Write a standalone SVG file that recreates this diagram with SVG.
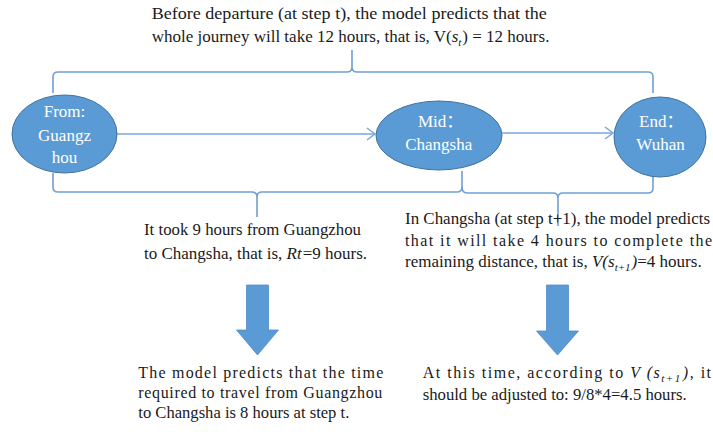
<svg xmlns="http://www.w3.org/2000/svg" width="713" height="432" viewBox="0 0 713 432">
<defs>
<style>
.t{font-family:"Liberation Serif","Times New Roman",serif;font-size:17px;fill:#1a1a1a}
.m{font-family:"Liberation Serif","Times New Roman",serif;font-size:16px;fill:#1a1a1a}
.n{font-family:"Liberation Serif","Times New Roman","Noto Sans CJK SC",serif;font-size:17px;fill:#ffffff}
.i{font-style:italic}
.sub{font-size:11px}
.node{fill:#5b9bd5;stroke:#41719c;stroke-width:1}
.brace{fill:none;stroke:#6fa0d6;stroke-width:1.6}
.conn{fill:none;stroke:#7aa7da;stroke-width:1.6}
.big{fill:#5b9bd5;stroke:#4f8cc9;stroke-width:0.8}
</style>
<marker id="chev" markerWidth="12" markerHeight="14" refX="10" refY="7" orient="auto" markerUnits="userSpaceOnUse">
<path d="M2,1 L10,7 L2,13" fill="none" stroke="#7aa7da" stroke-width="1.5"/>
</marker>
</defs>

<g id="connectors">
<path class="conn" d="M117,134 L375,134" marker-end="url(#chev)"/>
<path class="conn" d="M502,133 L613,133" marker-end="url(#chev)"/>
<path class="brace" d="M53,93 L53,77 Q53,72 58,72 L347,72 Q352,72 352,67 L352,50 M352,67 Q352,72 357,72 L648,72 Q653,72 653,77 L653,93"/>
<path class="brace" d="M53,173 L53,187 Q53,192 58,192 L252,192 Q257,192 257,197 L257,217 M257,197 Q257,192 262,192 L457,192 Q462,192 462,187 L462,171"/>
<path class="brace" d="M462,187 Q462,193 467,193 L553,193 Q558,193 558,198 L558,226 M558,198 Q558,193 563,193 L648,193 Q653,193 653,188 L653,175"/>
<polygon class="big" points="246.5,285 268.5,285 268.5,330 278.5,330 257.5,355 236.5,330 246.5,330"/>
<polygon class="big" points="546.5,285 568.5,285 568.5,331 578.5,331 557.5,355 536.5,331 546.5,331"/>
</g>

<g id="node-from">
<ellipse class="node" cx="64.5" cy="134" rx="52.5" ry="39"/>
<text class="n" x="64.5" y="117" text-anchor="middle">From:</text>
<text class="n" x="64.5" y="140.5" text-anchor="middle">Guangz</text>
<text class="n" x="64.5" y="162.5" text-anchor="middle">hou</text>
</g>

<g id="node-mid">
<ellipse class="node" cx="439" cy="135.5" rx="63" ry="34.5"/>
<text class="n" x="418" y="127">Mid：</text>
<text class="n" x="438.7" y="150" text-anchor="middle">Changsha</text>
</g>

<g id="node-end">
<ellipse class="node" cx="660" cy="137" rx="46" ry="40"/>
<text class="n" x="639" y="127">End：</text>
<text class="n" x="660.5" y="150" text-anchor="middle">Wuhan</text>
</g>

<g id="text-top">
<text class="t" x="151.7" y="19" textLength="395" lengthAdjust="spacingAndGlyphs">Before departure (at step t), the model predicts that the</text>
<text class="t" x="151.7" y="42">whole journey will take 12 hours, that is, V(<tspan class="i">s</tspan><tspan class="sub i" dy="4">t</tspan><tspan dx="1" dy="-4">) = 12 hours.</tspan></text>
</g>

<g id="text-mid-left">
<text class="t" x="144" y="235" textLength="217" lengthAdjust="spacingAndGlyphs">It took 9 hours from Guangzhou</text>
<text class="t" x="144" y="259">to Changsha, that is, <tspan class="i">Rt</tspan><tspan dx="1">=9 hours.</tspan></text>
</g>

<g id="text-mid-right">
<text class="t" x="405" y="224" textLength="305" lengthAdjust="spacingAndGlyphs">In Changsha (at step t+1), the model predicts</text>
<text class="m" x="405" y="245.5" textLength="307" lengthAdjust="spacing">that it will take 4 hours to complete the</text>
<text class="t" x="405" y="267">remaining distance, that is, <tspan class="i">V(s</tspan><tspan class="sub i" dy="4">t+1</tspan><tspan class="i" dx="1" dy="-4">)</tspan>=4 hours.</text>
</g>

<g id="text-bottom-left">
<text class="m" x="138.3" y="378.3" textLength="245" lengthAdjust="spacing">The model predicts that the time</text>
<text class="m" x="138.3" y="398.3" textLength="244" lengthAdjust="spacing">required to travel from Guangzhou</text>
<text class="t" x="138.3" y="418.3" textLength="211" lengthAdjust="spacingAndGlyphs">to Changsha is 8 hours at step t.</text>
</g>

<g id="text-bottom-right">
<text class="m" x="422.7" y="378" letter-spacing="1.5">At this time, according to <tspan class="i">V (s</tspan><tspan class="sub i" dy="4">t+1</tspan><tspan class="i" dx="1" dy="-4">)</tspan>, it</text>
<text class="t" x="422.7" y="400" textLength="264" lengthAdjust="spacingAndGlyphs">should be adjusted to: 9/8*4=4.5 hours.</text>
</g>
</svg>
